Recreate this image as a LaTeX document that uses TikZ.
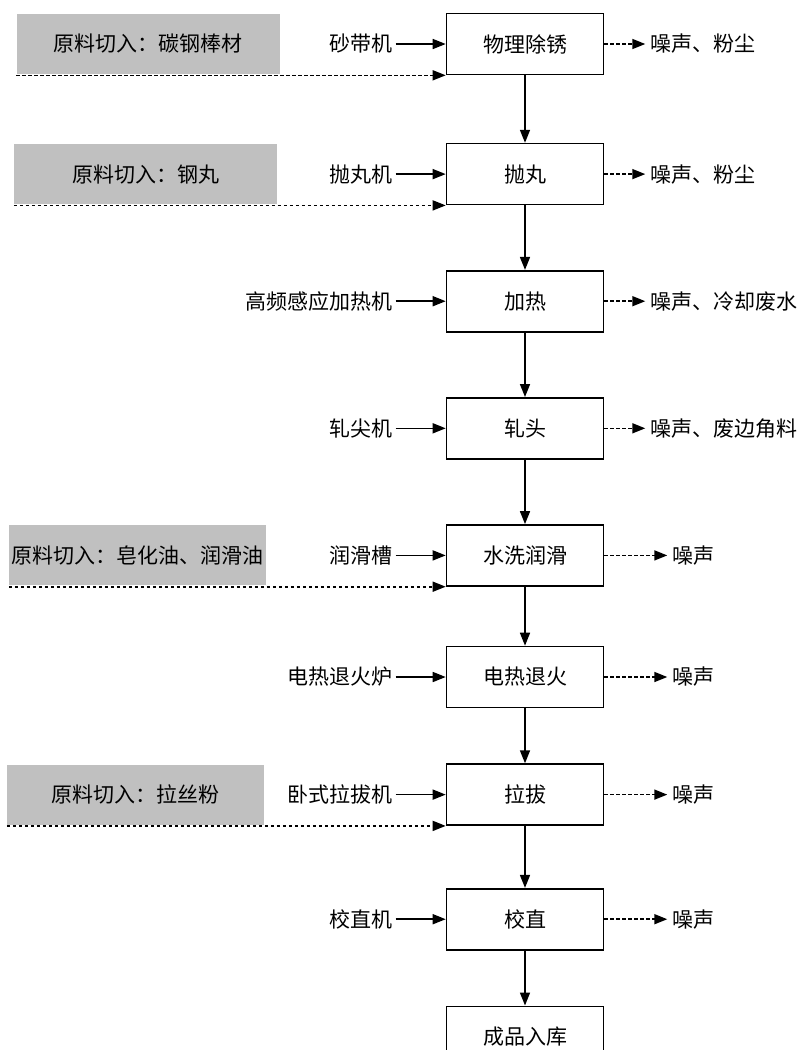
\documentclass[tikz,border=0pt]{standalone}
\usepackage{fontspec}
\setmainfont{Noto Sans CJK SC}
\usepackage{xcolor}
\usepackage{tikz}
\usetikzlibrary{arrows.meta,positioning,calc}
\definecolor{feedgray}{RGB}{192,192,192}

\begin{document}
\begin{tikzpicture}[x=1pt, y=1pt, node distance=40pt, font=\fontsize{21}{25}\selectfont]
    \tikzstyle{process} = [rectangle, draw=black, line width=1.6pt, minimum width=157pt, minimum height=61pt, inner sep=0pt, text centered]
    \tikzstyle{feed} = [rectangle, fill=feedgray, minimum height=60pt, inner sep=0pt, text centered]
    \tikzstyle{equip} = [inner sep=3pt]
    \tikzstyle{emission} = [inner sep=5pt]
    \tikzstyle{arrow} = [draw, -{Triangle[length=13pt,width=10pt]}, line width=1.6pt]
    \tikzstyle{dotarrow} = [arrow, dash pattern=on 3.5pt off 2.5pt]

    \useasboundingbox (0,0) rectangle (803,-1050);

    % Process chain
    \node [process] (derust) at (525,-44) {物理除锈};
    \node [process, below=67.5pt of derust] (blast) {抛丸};
    \node [process, below=64.5pt of blast] (heat) {加热};
    \node [process, below=64.5pt of heat] (roll) {轧头};
    \node [process, below=64.5pt of roll] (lube) {水洗润滑};
    \node [process, below=59pt of lube] (anneal) {电热退火};
    \node [process, below=55pt of anneal] (drawing) {拉拔};
    \node [process, below=62pt of drawing] (straight) {校直};
    \node [process, below=55pt of straight] (store) {成品入库};

    % Equipment
    \node [equip, left=50pt of derust] (sander) {砂带机};
    \node [equip, left=50pt of blast] (blaster) {抛丸机};
    \node [equip, left=50pt of heat] (heater) {高频感应加热机};
    \node [equip, left=50pt of roll] (roller) {轧尖机};
    \node [equip, left=50pt of lube] (tank) {润滑槽};
    \node [equip, left=50pt of anneal] (furnace) {电热退火炉};
    \node [equip, left=50pt of drawing] (drawer) {卧式拉拔机};
    \node [equip, left=50pt of straight] (straightener) {校直机};

    % Raw material inputs
    \node [feed, minimum width=263pt, left=166pt of derust] (rawsteel) {原料切入：碳钢棒材};
    \node [feed, minimum width=263pt, left=168.5pt of blast] (rawshot) {原料切入：钢丸};
    \node [feed, minimum width=257pt, left=179.5pt of lube] (rawoil) {原料切入：皂化油、润滑油};
    \node [feed, minimum width=257pt, left=181.5pt of drawing] (rawpowder) {原料切入：拉丝粉};

    % Emissions
    \node [emission, right=41pt of derust] (out1) {噪声、粉尘};
    \node [emission, right=41pt of blast] (out2) {噪声、粉尘};
    \node [emission, right=41pt of heat] (out3) {噪声、冷却废水};
    \node [emission, right=41pt of roll] (out4) {噪声、废边角料};
    \node [emission, right=63pt of lube] (out5) {噪声};
    \node [emission, right=63pt of anneal] (out6) {噪声};
    \node [emission, right=63pt of drawing] (out7) {噪声};
    \node [emission, right=63pt of straight] (out8) {噪声};

    % Main flow
    \draw [arrow] (derust) -- (blast);
    \draw [arrow] (blast) -- (heat);
    \draw [arrow] (heat) -- (roll);
    \draw [arrow] (roll) -- (lube);
    \draw [arrow] (lube) -- (anneal);
    \draw [arrow] (anneal) -- (drawing);
    \draw [arrow] (drawing) -- (straight);
    \draw [arrow] (straight) -- (store);

    % Equipment arrows
    \draw [arrow] (sander) -- (derust);
    \draw [arrow] (blaster) -- (blast);
    \draw [arrow] (heater) -- (heat);
    \draw [arrow] (roller) -- (roll);
    \draw [arrow] (tank) -- (lube);
    \draw [arrow] (furnace) -- (anneal);
    \draw [arrow] (drawer) -- (drawing);
    \draw [arrow] (straightener) -- (straight);

    % Material lines
    \draw [dotarrow] (rawsteel.west |- derust.south west) -- (derust.south west);
    \draw [dotarrow] (rawshot.west |- blast.south west) -- (blast.south west);
    \draw [dotarrow] (rawoil.west |- lube.south west) -- (lube.south west);
    \draw [dotarrow] (rawpowder.west |- drawing.south west) -- (drawing.south west);

    % Emission arrows
    \draw [dotarrow] (derust) -- (out1);
    \draw [dotarrow] (blast) -- (out2);
    \draw [dotarrow] (heat) -- (out3);
    \draw [dotarrow] (roll) -- (out4);
    \draw [dotarrow] (lube) -- (out5);
    \draw [dotarrow] (anneal) -- (out6);
    \draw [dotarrow] (drawing) -- (out7);
    \draw [dotarrow] (straight) -- (out8);
\end{tikzpicture}
\end{document}
